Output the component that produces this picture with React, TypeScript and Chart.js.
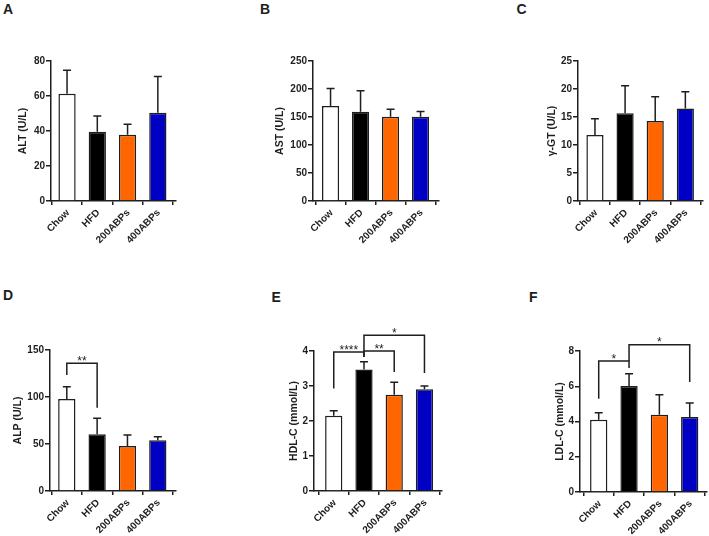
import React, { useEffect, useRef } from 'react';
import { Chart, registerables } from 'chart.js';

Chart.register(...registerables);

// ---------- data ----------
const categories = ['Chow', 'HFD', '200ABPs', '400ABPs'];
const barColors = ['#ffffff', '#000000', '#ff6600', '#0000c4'];

const altMean = [61.3, 39.6, 37.9, 50.5];
const altSD = [13.4, 9.0, 5.9, 20.7];
const astMean = [169.6, 159.5, 150.6, 150.6];
const astSD = [31.4, 37.5, 13.4, 9.4];
const ggtMean = [11.8, 15.65, 14.3, 16.5];
const ggtSD = [2.9, 4.95, 4.3, 3.0];
const alpMean = [97.8, 60.4, 48.0, 54.0];
const alpSD = [13.1, 17.1, 11.7, 3.6];
const hdlMean = [2.15, 3.47, 2.75, 2.91];
const hdlSD = [0.14, 0.22, 0.36, 0.09];
const ldlMean = [4.1, 6.01, 4.39, 4.25];
const ldlSD = [0.4, 0.7, 1.13, 0.8];

type Bracket = { a: number; b: number; y: number; legA: number; legB: number; label: string };
const alpBrackets: Bracket[] = [{ a: 0, b: 1, y: 135.8, legA: 123.3, legB: 88.5, label: '**' }];
const hdlBrackets: Bracket[] = [
  { a: 0, b: 1, y: 3.97, legA: 2.93, legB: 3.83, label: '****' },
  { a: 1, b: 2, y: 4.0, legA: 3.83, legB: 3.4, label: '**' },
  { a: 1, b: 3, y: 4.45, legA: 4.0, legB: 3.37, label: '*' },
];
const ldlBrackets: Bracket[] = [
  { a: 0, b: 1, y: 7.43, legA: 5.29, legB: 7.03, label: '*' },
  { a: 1, b: 3, y: 8.36, legA: 7.43, legB: 6.24, label: '*' },
];

// ---------- layout ----------
const FONT = "'Liberation Sans', Arial, sans-serif";
const INK = '#1e1e1e';
const YW = 50; // y-axis box width
const PADT = 40; // space above plot
const PADR = 6;
const XH = 66; // x-axis box height

type PanelCfg = {
  letter: string;
  title: string;
  mean: number[];
  sd: number[];
  yMax: number;
  yStep: number;
  brackets: Bracket[];
  axisX: number;
  topY: number;
  zeroY: number;
  endX: number;
  xMin: number;
  xMax: number;
  titleOff: number; // distance of title centre left of axis
  lx: number;
  ly: number;
};

const panels: PanelCfg[] = [
  { letter: 'A', title: 'ALT (U/L)', mean: altMean, sd: altSD, yMax: 80, yStep: 20, brackets: [],
    axisX: 51, topY: 61, zeroY: 201, endX: 176, xMin: -0.53, xMax: 3.6, titleOff: 28, lx: 3, ly: 2 },
  { letter: 'B', title: 'AST (U/L)', mean: astMean, sd: astSD, yMax: 250, yStep: 50, brackets: [],
    axisX: 313, topY: 61, zeroY: 201, endX: 439, xMin: -0.585, xMax: 3.615, titleOff: 33, lx: 260, ly: 2 },
  { letter: 'C', title: 'γ-GT (U/L)', mean: ggtMean, sd: ggtSD, yMax: 25, yStep: 5, brackets: [],
    axisX: 578, topY: 61, zeroY: 201, endX: 703, xMin: -0.563, xMax: 3.586, titleOff: 26, lx: 516.5, ly: 2 },
  { letter: 'D', title: 'ALP (U/L)', mean: alpMean, sd: alpSD, yMax: 150, yStep: 50, brackets: alpBrackets,
    axisX: 50, topY: 350, zeroY: 491, endX: 176, xMin: -0.554, xMax: 3.6, titleOff: 32, lx: 3, ly: 288 },
  { letter: 'E', title: 'HDL-C (mmol/L)', mean: hdlMean, sd: hdlSD, yMax: 4, yStep: 1, brackets: hdlBrackets,
    axisX: 314, topY: 351, zeroY: 491, endX: 442, xMin: -0.653, xMax: 3.58, titleOff: 19.5, lx: 271.5, ly: 289.5 },
  { letter: 'F', title: 'LDL-C (mmol/L)', mean: ldlMean, sd: ldlSD, yMax: 8, yStep: 2, brackets: ldlBrackets,
    axisX: 580, topY: 351, zeroY: 492, endX: 707, xMin: -0.617, xMax: 3.57, titleOff: 19.5, lx: 529, ly: 289.5 },
];

const TITLE_SIZE = 10.5;

function Panel({ cfg }: { cfg: PanelCfg }) {
  const ref = useRef<HTMLCanvasElement | null>(null);
  const left = cfg.axisX - YW;
  const top = cfg.topY - PADT;
  const width = YW + (cfg.endX - cfg.axisX) + PADR;
  const height = PADT + (cfg.zeroY - cfg.topY) + XH;

  useEffect(() => {
    if (!ref.current) return;
    const lineH = TITLE_SIZE * 1.2;
    const titlePad = YW - cfg.titleOff - lineH / 2;

    const overlay = {
      id: 'overlay' + cfg.letter,
      afterDatasetsDraw(chart: any) {
        const ctx = chart.ctx;
        const xs = chart.scales.x;
        const ys = chart.scales.y;
        const meta = chart.getDatasetMeta(0);
        ctx.save();
        ctx.strokeStyle = INK;
        ctx.lineWidth = 1.5;
        // error bars (upper SD)
        meta.data.forEach((el: any, i: number) => {
          const x = el.x;
          const y0 = ys.getPixelForValue(cfg.mean[i]);
          const y1 = ys.getPixelForValue(cfg.mean[i] + cfg.sd[i]);
          ctx.beginPath();
          ctx.moveTo(x, y0);
          ctx.lineTo(x, y1);
          ctx.moveTo(x - 4, y1);
          ctx.lineTo(x + 4, y1);
          ctx.stroke();
        });
        // significance brackets
        ctx.fillStyle = INK;
        ctx.font = `12px ${FONT}`;
        ctx.textAlign = 'center';
        ctx.textBaseline = 'alphabetic';
        cfg.brackets.forEach((b) => {
          const xa = xs.getPixelForValue(b.a);
          const xb = xs.getPixelForValue(b.b);
          const yy = ys.getPixelForValue(b.y);
          ctx.beginPath();
          ctx.moveTo(xa, ys.getPixelForValue(b.legA));
          ctx.lineTo(xa, yy);
          ctx.lineTo(xb, yy);
          ctx.lineTo(xb, ys.getPixelForValue(b.legB));
          ctx.stroke();
          ctx.fillText(b.label, (xa + xb) / 2, yy + 1.5);
        });
        ctx.restore();
      },
    };

    const chart = new Chart(ref.current, {
      type: 'bar',
      data: {
        datasets: [
          {
            data: cfg.mean.map((v, i) => ({ x: i, y: v })),
            backgroundColor: barColors,
            borderColor: INK,
            borderWidth: 1.5,
            barPercentage: 0.57,
            categoryPercentage: 1,
          } as any,
        ],
      },
      options: {
        animation: false,
        responsive: false,
        maintainAspectRatio: false,
        layout: { padding: { top: PADT, right: PADR, left: 0, bottom: 0 } },
        plugins: { legend: { display: false }, tooltip: { enabled: false } },
        scales: {
          x: {
            type: 'linear',
            min: cfg.xMin,
            max: cfg.xMax,
            offset: false,
            grid: { display: true, drawOnChartArea: false, drawTicks: true, tickLength: 4, color: INK, lineWidth: 1.5 },
            border: { display: true, color: INK, width: 1.5 },
            ticks: {
              stepSize: 1,
              includeBounds: false,
              autoSkip: false,
              minRotation: 45,
              maxRotation: 45,
              padding: 2,
              labelOffset: 1,
              color: INK,
              font: { family: FONT, size: 10, weight: 'bold' },
              callback: (v: any) => categories[Number(v)] ?? '',
            },
            afterFit: (s: any) => {
              s.height = XH;
            },
          } as any,
          y: {
            type: 'linear',
            min: 0,
            max: cfg.yMax,
            ticks: {
              stepSize: cfg.yStep,
              padding: 1,
              color: INK,
              font: { family: FONT, size: 10, weight: 'bold' },
            },
            grid: { display: true, drawOnChartArea: false, drawTicks: true, tickLength: 5, color: INK, lineWidth: 1.5 },
            border: { display: true, color: INK, width: 1.5 },
            title: {
              display: true,
              text: cfg.title,
              color: INK,
              font: { family: FONT, size: TITLE_SIZE, weight: 'bold', lineHeight: 1.2 },
              padding: { top: titlePad, bottom: 0 },
            },
            afterFit: (s: any) => {
              s.width = YW;
            },
          } as any,
        },
      },
      plugins: [overlay],
    });
    return () => chart.destroy();
  }, [cfg]);

  return (
    <>
      <div
        style={{
          position: 'absolute',
          left: cfg.lx,
          top: cfg.ly,
          font: `bold 14px ${FONT}`,
          lineHeight: '14px',
          color: INK,
        }}
      >
        {cfg.letter}
      </div>
      <canvas
        ref={ref}
        width={width}
        height={height}
        style={{ position: 'absolute', left, top, width, height }}
      />
    </>
  );
}

export default function App() {
  return (
    <div style={{ position: 'absolute', left: 0, top: 0, width: 709, height: 536, background: '#fff', overflow: 'hidden' }}>
      {panels.map((p) => (
        <Panel key={p.letter} cfg={p} />
      ))}
    </div>
  );
}
